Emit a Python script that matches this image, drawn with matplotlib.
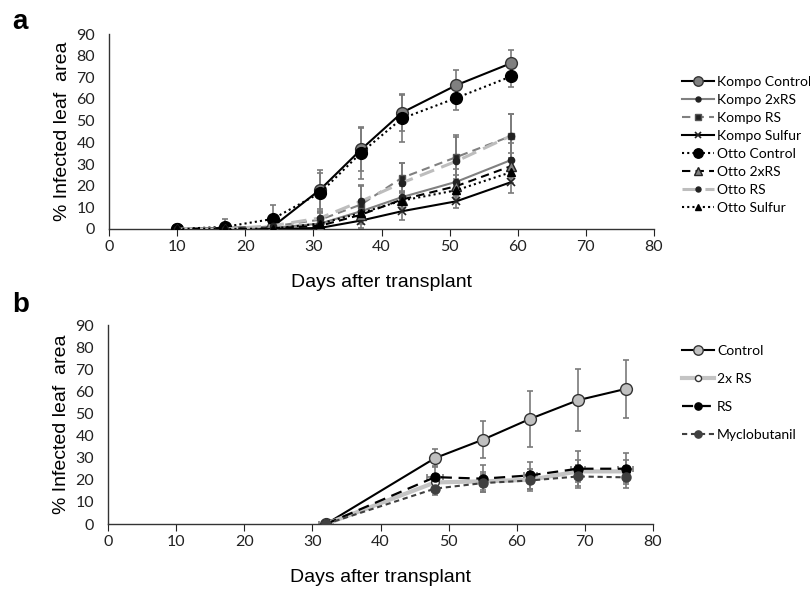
import matplotlib
matplotlib.use("Agg")
import matplotlib.pyplot as plt
import numpy as np

# ---------------- data: panel a ----------------
days_a = [10, 17, 24, 31, 37, 43, 51, 59]
kompo_control = [0, 0.5, 1, 18.2, 36.7, 53.7, 66.4, 76.5]
kompo_control_err = [0, 0.5, 1, 9, 10, 8.5, 7, 6]
kompo_2xrs = [0, 0, 0.5, 2.5, 8.2, 14.7, 21.8, 31.8]
kompo_2xrs_err = [0, 0, 0.5, 2, 4, 5, 6, 8]
kompo_rs = [0, 0, 1.2, 4.3, 11.3, 23.6, 33.2, 42.9]
kompo_rs_err = [0, 0, 1, 3, 9, 7, 10, 10]
kompo_sulfur = [0, 0, 0, 0.5, 3.9, 8.2, 12.8, 21.6]
kompo_sulfur_err = [0, 0, 0, 0.5, 3.5, 4, 3, 5]
otto_control = [0, 1, 4.6, 16.7, 35.2, 51, 60.5, 70.4]
otto_control_err = [0, 3.6, 6.7, 9, 12, 11, 5.5, 5]
otto_2xrs = [0, 0, 0.3, 1.5, 6.6, 13.6, 19.8, 29]
otto_2xrs_err = [0, 0, 0.3, 1.5, 3, 4, 5, 6]
otto_rs = [0, 0, 1.5, 5.1, 12.8, 21.3, 31.3, 43]
otto_rs_err = [0, 0, 1, 3, 7, 9, 11, 10]
otto_sulfur = [0, 0, 0.2, 2.5, 7.4, 13.1, 17.9, 26.2]
otto_sulfur_err = [0, 0, 0.2, 2, 3, 4, 4, 5]

# ---------------- data: panel b ----------------
days_b = [32, 48, 55, 62, 69, 76]
control_b = [0, 29.8, 38.1, 47.6, 56.0, 61.1]
control_b_err = [0, 4, 8.3, 12.6, 14, 13]
rs2x_b = [0, 18.8, 19.3, 20, 23.8, 23.8]
rs2x_b_err = [0, 4, 4, 5, 5, 5]
rs_b = [0, 21.2, 20.5, 22, 25, 25]
rs_b_err = [0, 5, 6, 6, 8, 7]
rs_b_xerr = [1, 1.2, 0.3, 1, 1, 1.1]
myclo_b = [0, 16, 18.5, 19.7, 21.5, 21.1]
myclo_b_err = [0, 3, 4, 4, 5, 5]

xticks = [0, 10, 20, 30, 40, 50, 60, 70, 80]
yticks = [0, 10, 20, 30, 40, 50, 60, 70, 80, 90]

TICKFONT = "Lato"
LABFONT = "Liberation Sans"
ERRC = "#7a7a7a"

fig = plt.figure(figsize=(8.10, 5.91), dpi=100)
axa = fig.add_axes([109/810, 1-229/591, (654-109)/810, (229-34)/591])
axb = fig.add_axes([108/810, 1-524/591, (653-108)/810, (524-325)/591])

def style_axis(ax):
    ax.set_xlim(0, 80)
    ax.set_ylim(0, 90)
    ax.set_xticks(xticks)
    ax.set_yticks(yticks)
    for s in ["top", "right"]:
        ax.spines[s].set_visible(False)
    for s in ["left", "bottom"]:
        ax.spines[s].set_linewidth(1.0)
        ax.spines[s].set_color("#333333")
    ax.tick_params(axis="y", length=0, pad=10, labelsize=11.5, colors="#222222")
    ax.tick_params(axis="x", length=5, direction="out", pad=3, labelsize=11.5, colors="#222222")
    for lab in ax.get_xticklabels() + ax.get_yticklabels():
        lab.set_fontfamily(TICKFONT)
    ax.set_ylabel("% Infected leaf  area", fontfamily=LABFONT, fontsize=14, labelpad=4)
    ax.set_xlabel("Days after transplant", fontfamily=LABFONT, fontsize=14, labelpad=14)

def series(ax, x, y, err, label, xerr=None, **kw):
    ax.errorbar(x, y, yerr=err, xerr=xerr, fmt="none", ecolor=ERRC, elinewidth=1.2,
                capsize=2.5, capthick=1.2, zorder=2)
    ln, = ax.plot(x, y, label=label, zorder=3, **kw)
    return ln

# ---- panel a ----
ha = []
ha.append(series(axa, days_a, kompo_control, kompo_control_err, "Kompo Control",
                 color="black", lw=1.5, ls="-", marker="o", ms=8.5, mfc="#808080", mec="#333333"))
ha.append(series(axa, days_a, kompo_2xrs, kompo_2xrs_err, "Kompo 2xRS",
                 color="#808080", lw=1.5, ls="-", marker="o", ms=4.5, mfc="#222222", mec="#222222"))
ha.append(series(axa, days_a, kompo_rs, kompo_rs_err, "Kompo RS",
                 color="#808080", lw=1.5, ls=(0, (4, 2.5)), marker="s", ms=5, mfc="#222222", mec="#555555"))
ha.append(series(axa, days_a, kompo_sulfur, kompo_sulfur_err, "Kompo Sulfur",
                 color="black", lw=1.5, ls="-", marker="x", ms=6, mec="#222222", mew=1.2))
ha.append(series(axa, days_a, otto_control, otto_control_err, "Otto Control",
                 color="black", lw=1.5, ls=(0, (1, 1.5)), marker="o", ms=8.5, mfc="black", mec="black"))
ha.append(series(axa, days_a, otto_2xrs, otto_2xrs_err, "Otto 2xRS",
                 color="black", lw=1.5, ls=(0, (4, 2.5)), marker="^", ms=6.5, mfc="#808080", mec="#222222"))
ha.append(series(axa, days_a, otto_rs, otto_rs_err, "Otto RS",
                 color="#bdbdbd", lw=2.2, ls=(0, (5, 2.5)), marker="o", ms=4.5, mfc="#222222", mec="#222222"))
ha.append(series(axa, days_a, otto_sulfur, otto_sulfur_err, "Otto Sulfur",
                 color="black", lw=1.5, ls=(0, (1, 1.5)), marker="^", ms=5.5, mfc="black", mec="black"))
style_axis(axa)

leg_a = fig.legend(handles=ha, loc="upper left", bbox_to_anchor=(672/810, 1-66/591),
                   frameon=False, handlelength=2.3, labelspacing=0.43, handletextpad=0.25,
                   borderpad=0.2, markerscale=0.8, prop={"family": TICKFONT, "size": 10})

# ---- panel b ----
hb = []
hb.append(series(axb, days_b, control_b, control_b_err, "Control",
                 color="black", lw=1.5, ls="-", marker="o", ms=8.5, mfc="#c0c0c0", mec="#333333"))
hb.append(series(axb, days_b, rs2x_b, rs2x_b_err, "2x RS",
                 color="#c4c4c4", lw=3, ls="-", marker="o", ms=5.5, mfc="white", mec="#333333"))
hb.append(series(axb, days_b, rs_b, rs_b_err, "RS", xerr=rs_b_xerr,
                 color="black", lw=1.6, ls=(0, (5, 3)), marker="o", ms=6.5, mfc="black", mec="black"))
hb.append(series(axb, days_b, myclo_b, myclo_b_err, "Myclobutanil",
                 color="#404040", lw=1.5, ls=(0, (2.5, 1.8)), marker="o", ms=6.5, mfc="#404040", mec="#404040"))
style_axis(axb)

leg_b = fig.legend(handles=hb, loc="upper left", bbox_to_anchor=(672/810, 1-335/591),
                   frameon=False, handlelength=2.3, labelspacing=1.15, handletextpad=0.25,
                   borderpad=0.2, markerscale=0.8, prop={"family": TICKFONT, "size": 10})

fig.text(12/810, 1-22/591, "a", fontsize=20, fontweight="bold", fontfamily=LABFONT, va="center")
fig.text(12/810, 1-305/591, "b", fontsize=20, fontweight="bold", fontfamily=LABFONT, va="center")

fig.savefig("out.png", dpi=100)
